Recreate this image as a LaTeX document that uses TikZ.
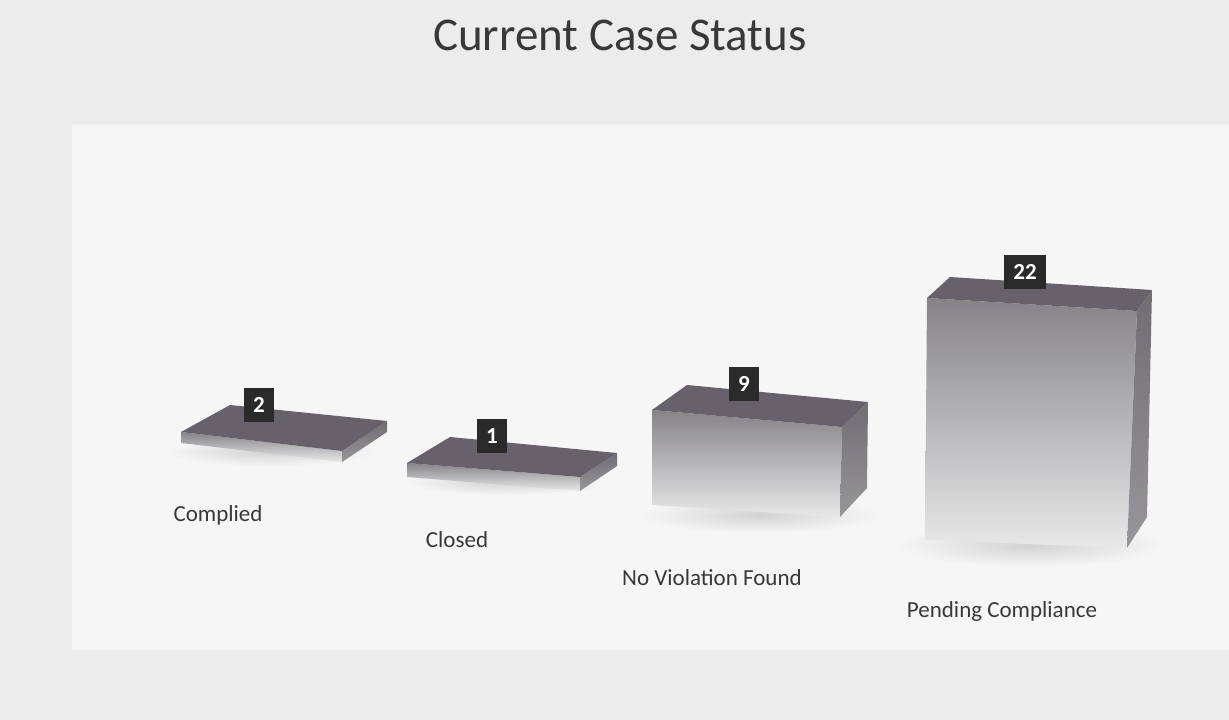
\documentclass[tikz,border=0pt]{standalone}
\usepackage{fontspec}
\setmainfont{Carlito}
\definecolor{bg}{HTML}{ECECEC}
\definecolor{plot}{HTML}{F6F6F6}
\definecolor{topc}{HTML}{67616B}
\definecolor{sidec}{HTML}{706D72}
\definecolor{frontc}{HTML}{858387}
\definecolor{lab}{HTML}{2A2A2A}
\definecolor{txt}{HTML}{383838}
\begin{document}
\begin{tikzpicture}[x=1pt,y=-1pt,
  vbox/.style={fill=lab,text=white,font=\bfseries\fontsize{23}{24}\selectfont,inner xsep=9pt,inner ysep=0pt,minimum width=30pt,minimum height=34pt},
  cat/.style={font=\fontsize{23}{26}\selectfont,text=txt},
  topface/.style={fill=topc},
  sideface/.style={top color=sidec,bottom color=sidec!70!plot},
  frontface/.style={top color=frontc,bottom color=plot!88!frontc},
  shadow/.style={inner color=gray!35,outer color=plot}]
\fill[bg] (0,0) rectangle (1229,720);
\useasboundingbox (0,0) rectangle (1229,720);
\fill[plot] (72,125) rectangle (1229,650);

% title
\node[font=\fontsize{47}{52}\selectfont,text=txt] (title) at (620,35) {Current Case Status};

% shadows
\shade[shadow] (270,452) ellipse (105 and 14);
\shade[shadow] (505,482) ellipse (100 and 13);
\shade[shadow] (760,515) ellipse (120 and 18);
\shade[shadow] (1030,545) ellipse (135 and 22);

% bar 1: Complied
\shade[frontface] (181,432) -- (342,451) -- (342,462) -- (181,443) -- cycle;
\shade[sideface] (342,451) -- (387,421) -- (387,432) -- (342,462) -- cycle;
\fill[topface] (181,432) -- (230,405) -- (387,421) -- (342,451) -- cycle;

% bar 2: Closed
\shade[frontface] (407,463) -- (580,477) -- (580,491) -- (407,477) -- cycle;
\shade[sideface] (580,477) -- (617,453) -- (617,466) -- (580,491) -- cycle;
\fill[topface] (407,463) -- (450,437) -- (617,453) -- (580,477) -- cycle;

% bar 3: No Violation Found
\shade[frontface] (652,410) -- (842,427) -- (840,517) -- (652,505) -- cycle;
\shade[sideface] (842,427) -- (868,402) -- (867,488) -- (840,517) -- cycle;
\fill[topface] (652,410) -- (687,385) -- (868,402) -- (842,427) -- cycle;

% bar 4: Pending Compliance
\shade[frontface] (927,298) -- (1137,311) -- (1127,548) -- (925,540) -- cycle;
\shade[sideface] (1137,311) -- (1152,290) -- (1147,517) -- (1127,548) -- cycle;
\fill[topface] (927,298) -- (950,277) -- (1152,290) -- (1137,311) -- cycle;

% value labels
\node[vbox] (v1) at (259,405) {2};
\node[vbox] (v2) at (492,436) {1};
\node[vbox] (v3) at (744,384) {9};
\node[vbox] (v4) at (1025,272) {22};

% category labels
\node[cat] (c1) at (218,515) {Complied};
\node[cat] (c2) at (457,540) {Closed};
\node[cat] (c3) at (712,578) {No Violation Found};
\node[cat] (c4) at (1002,611) {Pending Compliance};
\end{tikzpicture}
\end{document}
